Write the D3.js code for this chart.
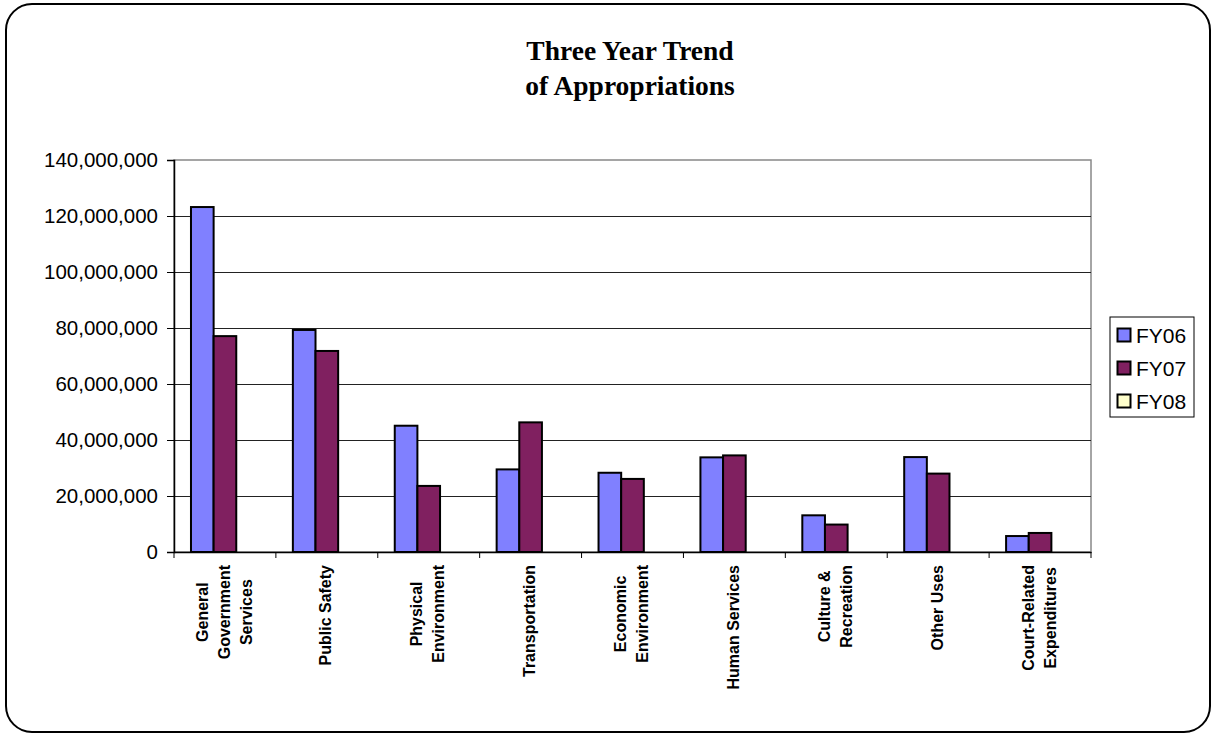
<!DOCTYPE html>
<html>
<head>
<meta charset="utf-8">
<script src="https://cdn.jsdelivr.net/npm/d3@7"></script>
<style>
  html, body { margin: 0; padding: 0; background: #fff; }
  svg { display: block; }
</style>
</head>
<body>
<svg id="chart" width="1214" height="734"></svg>
<script>
// Appropriations by function, three fiscal years
const categories = [
  "General\nGovernment\nServices",
  "Public Safety",
  "Physical\nEnvironment",
  "Transportation",
  "Economic\nEnvironment",
  "Human Services",
  "Culture &\nRecreation",
  "Other Uses",
  "Court-Related\nExpenditures"
];
const seriesNames = ["FY06", "FY07", "FY08"];
const fy06 = [123200000, 79300000, 45100000, 29500000, 28300000, 33800000, 13100000, 33900000, 5700000];
const fy07 = [77100000, 71800000, 23600000, 46300000, 26100000, 34500000, 9800000, 28000000, 6800000];
const fy08 = [null, null, null, null, null, null, null, null, null];
const seriesColors = ["#8080FF", "#802060", "#FFFFCC"];
const yTicks = [0, 20000000, 40000000, 60000000, 80000000, 100000000, 120000000, 140000000];
const titleLines = ["Three Year Trend", "of Appropriations"];

const seriesValues = [fy06, fy07, fy08];

const svg = d3.select("#chart");

// Outer rounded frame
svg.append("rect")
  .attr("x", 6).attr("y", 4)
  .attr("width", 1204).attr("height", 728)
  .attr("rx", 26).attr("ry", 26)
  .attr("fill", "#fff").attr("stroke", "#000").attr("stroke-width", 2);

// Title
svg.append("g").selectAll("text")
  .data(titleLines)
  .join("text")
  .attr("x", 630)
  .attr("y", (d, i) => 60 + i * 35)
  .attr("text-anchor", "middle")
  .attr("font-family", "'Liberation Serif', 'Times New Roman', serif")
  .attr("font-weight", "bold")
  .attr("font-size", 27.5)
  .text(d => d);

const plot = { left: 174, right: 1091, top: 160, bottom: 552 };

const x = d3.scaleBand()
  .domain(categories)
  .range([plot.left, plot.right])
  .padding(0);

const xInner = d3.scaleBand()
  .domain(seriesNames)
  .range([0, x.bandwidth()])
  .paddingInner(0)
  .paddingOuter(0.75);

const y = d3.scaleLinear()
  .domain([0, 140000000])
  .range([plot.bottom, plot.top]);

// Plot area background and border
svg.append("rect")
  .attr("x", plot.left).attr("y", plot.top)
  .attr("width", plot.right - plot.left).attr("height", plot.bottom - plot.top)
  .attr("fill", "#fff").attr("stroke", "#888").attr("stroke-width", 1.5);

// Gridlines
svg.append("g").selectAll("line")
  .data(yTicks.filter(t => t > 0 && t < 140000000))
  .join("line")
  .attr("x1", plot.left).attr("x2", plot.right)
  .attr("y1", d => Math.round(y(d)) + 0.5).attr("y2", d => Math.round(y(d)) + 0.5)
  .attr("stroke", "#222").attr("stroke-width", 1);

// Y axis
const yAxis = d3.axisLeft(y)
  .tickValues(yTicks)
  .tickSize(7)
  .tickPadding(9)
  .tickFormat(d3.format(",d"));
const gy = svg.append("g")
  .attr("transform", `translate(${plot.left},0)`)
  .call(yAxis);
gy.select(".domain").attr("stroke", "#000").attr("stroke-width", 1.5);
gy.selectAll(".tick line").attr("stroke", "#000");
gy.selectAll(".tick text")
  .attr("font-family", "'Liberation Sans', Arial, sans-serif")
  .attr("font-size", 20.5)
  .attr("fill", "#000");

// X axis (ticks between categories)
const xAxis = d3.axisBottom(x).tickSize(0).tickFormat("");
const gx = svg.append("g")
  .attr("transform", `translate(0,${plot.bottom})`)
  .call(xAxis);
gx.select(".domain").attr("stroke", "#000").attr("stroke-width", 1.5);
gx.selectAll(".tick").remove();
gx.selectAll("line.sep")
  .data(d3.range(categories.length + 1))
  .join("line")
  .attr("class", "sep")
  .attr("x1", i => plot.left + i * x.step())
  .attr("x2", i => plot.left + i * x.step())
  .attr("y1", 0).attr("y2", 6)
  .attr("stroke", "#000").attr("stroke-width", 1);

// Bars
const rows = [];
categories.forEach((c, ci) => {
  seriesNames.forEach((s, si) => {
    const v = seriesValues[si][ci];
    if (v != null) rows.push({ cat: c, series: s, value: v, color: seriesColors[si] });
  });
});
svg.append("g").selectAll("rect")
  .data(rows)
  .join("rect")
  .attr("x", d => x(d.cat) + xInner(d.series))
  .attr("y", d => y(d.value))
  .attr("width", xInner.bandwidth())
  .attr("height", d => y(0) - y(d.value))
  .attr("fill", d => d.color)
  .attr("stroke", "#000")
  .attr("stroke-width", 2);

// Category labels, rotated, multi-line, lines centred on each other
const labelTop = 565;
const lineGap = 22;
const labels = svg.append("g").selectAll("g")
  .data(categories)
  .join("g");
labels.each(function (d) {
  const g = d3.select(this);
  const lines = d.split("\n");
  const texts = g.selectAll("text")
    .data(lines)
    .join("text")
    .attr("text-anchor", "middle")
    .attr("font-family", "'Liberation Sans', Arial, sans-serif")
    .attr("font-weight", "bold")
    .attr("font-size", 16)
    .attr("x", 0)
    .attr("y", (l, i) => (i - (lines.length - 1) / 2) * lineGap)
    .attr("dy", "0.35em")
    .text(l => l);
  let maxW = 0;
  texts.each(function () { maxW = Math.max(maxW, this.getComputedTextLength()); });
  const cx = x(d) + x.bandwidth() / 2 - 1;
  g.attr("transform", `translate(${cx},${labelTop + maxW / 2}) rotate(-90)`);
});

// Legend
const legend = svg.append("g").attr("transform", "translate(1110,317)");
legend.append("rect")
  .attr("width", 84).attr("height", 100)
  .attr("fill", "#fff").attr("stroke", "#000").attr("stroke-width", 1);
const items = legend.selectAll("g.item")
  .data(seriesNames)
  .join("g")
  .attr("class", "item")
  .attr("transform", (d, i) => `translate(0,${18 + i * 33})`);
items.append("rect")
  .attr("x", 7.5).attr("y", -6.5)
  .attr("width", 13).attr("height", 13)
  .attr("fill", (d, i) => seriesColors[i])
  .attr("stroke", "#000").attr("stroke-width", 2);
items.append("text")
  .attr("x", 26).attr("y", 0)
  .attr("dy", "0.36em")
  .attr("font-family", "'Liberation Sans', Arial, sans-serif")
  .attr("font-size", 21)
  .text(d => d);
</script>
</body>
</html>
